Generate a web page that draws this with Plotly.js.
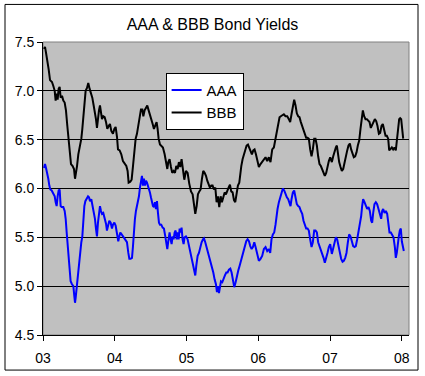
<!DOCTYPE html>
<html>
<head>
<meta charset="utf-8">
<script src="https://cdn.plot.ly/plotly-3.0.1.min.js"></script>
<style>html,body{margin:0;padding:0;background:#fff;}#chart{width:425px;height:376px;}</style>
</head>
<body>
<div id="chart"></div>
<script>
// Decimal-year dates and yields
const aaaX = [2003.014,2003.028,2003.042,2003.060,2003.074,2003.088,2003.102,2003.121,2003.144,2003.163,2003.176,2003.190,2003.204,2003.218,2003.232,2003.246,2003.260,2003.283,2003.302,2003.316,2003.330,2003.344,2003.358,2003.371,2003.385,2003.404,2003.423,2003.436,2003.446,2003.455,2003.464,2003.478,2003.492,2003.506,2003.520,2003.534,2003.548,2003.562,2003.576,2003.590,2003.608,2003.627,2003.641,2003.655,2003.673,2003.692,2003.710,2003.724,2003.738,2003.752,2003.766,2003.780,2003.794,2003.808,2003.822,2003.840,2003.859,2003.878,2003.891,2003.905,2003.924,2003.943,2003.961,
2003.975,2003.994,2004.012,2004.031,2004.049,2004.063,2004.077,2004.096,2004.114,2004.133,2004.151,2004.170,2004.189,2004.203,2004.221,2004.240,2004.254,2004.267,2004.281,2004.295,2004.309,2004.323,2004.337,2004.351,2004.365,2004.379,2004.393,2004.407,2004.421,2004.435,2004.449,2004.463,2004.476,2004.490,2004.504,2004.518,2004.532,2004.546,2004.560,2004.574,2004.588,2004.602,2004.616,2004.630,2004.648,2004.667,2004.685,2004.704,2004.718,2004.732,2004.746,2004.764,2004.778,2004.792,2004.806,2004.820,2004.834,2004.848,2004.862,2004.876,2004.890,2004.904,2004.918,2004.931,2004.945,2004.959,2004.973,
2004.992,2005.015,2005.034,2005.052,2005.071,2005.090,2005.108,2005.122,2005.136,2005.155,2005.173,2005.192,2005.210,2005.229,2005.243,2005.261,2005.280,2005.298,2005.317,2005.336,2005.354,2005.373,2005.391,2005.410,2005.424,2005.438,2005.452,2005.466,2005.480,2005.498,2005.517,2005.535,2005.554,2005.572,2005.591,2005.610,2005.628,2005.647,2005.665,2005.684,2005.702,2005.721,2005.740,2005.758,2005.777,2005.795,2005.814,2005.832,2005.851,2005.870,2005.888,2005.907,2005.925,2005.944,2005.962,2005.981,
2006.008,2006.031,2006.054,2006.078,2006.101,2006.124,2006.147,2006.166,2006.184,2006.203,2006.222,2006.240,2006.254,2006.268,2006.287,2006.305,2006.324,2006.342,2006.361,2006.379,2006.398,2006.417,2006.435,2006.449,2006.463,2006.482,2006.500,2006.519,2006.537,2006.556,2006.574,2006.593,2006.612,2006.630,2006.649,2006.667,2006.686,2006.704,2006.723,2006.742,2006.760,2006.779,2006.797,2006.816,2006.834,2006.853,2006.872,2006.890,2006.909,2006.927,2006.946,2006.964,2006.983,2007.002,
2007.025,2007.044,2007.062,2007.081,2007.099,2007.118,2007.136,2007.155,2007.174,2007.192,2007.211,2007.229,2007.248,2007.266,2007.285,2007.304,2007.322,2007.341,2007.359,2007.378,2007.396,2007.415,2007.434,2007.447,2007.461,2007.480,2007.499,2007.517,2007.536,2007.554,2007.573,2007.587,2007.601,2007.619,2007.638,2007.656,2007.675,2007.694,2007.712,2007.726,2007.740,2007.759,2007.777,2007.796,2007.814,2007.828,2007.847,2007.865,2007.884,2007.903,2007.916,2007.930,2007.944,2007.958,2007.972,2007.986,2008.000,2008.014,2008.028];
const aaaY = [6.21,6.25,6.21,6.16,6.10,6.03,5.99,5.98,5.94,5.92,5.86,5.82,5.92,5.98,5.99,5.82,5.81,5.81,5.77,5.69,5.55,5.41,5.28,5.17,5.05,5.02,5.00,4.90,4.83,4.88,4.95,5.07,5.17,5.28,5.36,5.45,5.51,5.69,5.82,5.87,5.89,5.92,5.91,5.87,5.89,5.82,5.75,5.69,5.59,5.51,5.65,5.74,5.82,5.77,5.74,5.75,5.70,5.64,5.57,5.62,5.67,5.65,5.59,
5.63,5.65,5.62,5.55,5.46,5.51,5.55,5.53,5.51,5.50,5.48,5.45,5.34,5.28,5.28,5.29,5.41,5.57,5.69,5.77,5.81,5.86,5.92,6.01,6.10,6.13,6.03,6.10,6.03,6.08,6.06,6.03,5.98,5.96,5.91,5.86,5.82,5.81,5.86,5.79,5.87,5.75,5.65,5.63,5.63,5.60,5.59,5.51,5.45,5.38,5.46,5.55,5.48,5.43,5.51,5.48,5.55,5.57,5.48,5.55,5.48,5.59,5.55,5.60,5.48,5.43,5.50,
5.51,5.48,5.41,5.38,5.31,5.21,5.14,5.11,5.21,5.31,5.34,5.40,5.45,5.48,5.49,5.45,5.40,5.33,5.28,5.24,5.21,5.14,5.07,5.02,4.94,5.00,4.93,4.99,5.05,5.04,5.09,5.11,5.14,5.14,5.17,5.18,5.14,5.07,4.99,5.04,5.11,5.16,5.21,5.26,5.31,5.38,5.43,5.46,5.48,5.46,5.41,5.38,5.40,5.45,5.40,5.34,
5.26,5.28,5.31,5.38,5.40,5.36,5.38,5.34,5.48,5.53,5.55,5.63,5.72,5.79,5.86,5.91,5.96,6.00,5.98,5.94,5.91,5.89,5.86,5.82,5.89,5.96,5.98,5.91,5.84,5.82,5.81,5.77,5.74,5.67,5.62,5.59,5.59,5.57,5.48,5.40,5.45,5.57,5.57,5.55,5.45,5.41,5.38,5.33,5.29,5.24,5.28,5.34,5.40,5.43,
5.33,5.38,5.45,5.50,5.48,5.40,5.34,5.28,5.25,5.26,5.29,5.34,5.45,5.53,5.51,5.46,5.41,5.40,5.41,5.48,5.55,5.62,5.72,5.82,5.89,5.86,5.81,5.79,5.81,5.77,5.67,5.65,5.75,5.84,5.86,5.84,5.79,5.75,5.69,5.77,5.79,5.75,5.77,5.74,5.63,5.55,5.55,5.53,5.50,5.40,5.29,5.34,5.46,5.51,5.57,5.59,5.46,5.38,5.36];

const bbbX = [2003.014,2003.028,2003.042,2003.060,2003.079,2003.098,2003.125,2003.144,2003.163,2003.176,2003.190,2003.204,2003.218,2003.232,2003.246,2003.265,2003.283,2003.302,2003.320,2003.339,2003.358,2003.376,2003.390,2003.413,2003.432,2003.446,2003.460,2003.474,2003.492,2003.515,2003.534,2003.548,2003.562,2003.576,2003.594,2003.613,2003.631,2003.650,2003.669,2003.687,2003.706,2003.724,2003.738,2003.752,2003.766,2003.780,2003.794,2003.808,2003.822,2003.840,2003.859,2003.878,2003.896,2003.915,2003.933,2003.952,
2003.975,2003.994,2004.012,2004.031,2004.045,2004.068,2004.091,2004.114,2004.138,2004.161,2004.179,2004.193,2004.216,2004.235,2004.254,2004.272,2004.291,2004.309,2004.328,2004.346,2004.365,2004.384,2004.398,2004.416,2004.435,2004.453,2004.472,2004.490,2004.509,2004.528,2004.546,2004.565,2004.583,2004.597,2004.611,2004.630,2004.648,2004.671,2004.695,2004.718,2004.732,2004.746,2004.764,2004.783,2004.801,2004.820,2004.839,2004.857,2004.876,2004.894,2004.913,2004.931,2004.950,2004.969,
2004.992,2005.015,2005.038,2005.062,2005.085,2005.108,2005.122,2005.141,2005.159,2005.178,2005.196,2005.215,2005.233,2005.252,2005.271,2005.289,2005.308,2005.326,2005.345,2005.363,2005.382,2005.401,2005.419,2005.438,2005.456,2005.475,2005.493,2005.512,2005.531,2005.549,2005.568,2005.586,2005.605,2005.623,2005.642,2005.661,2005.679,2005.698,2005.716,2005.735,2005.749,2005.763,2005.781,2005.800,2005.818,2005.837,2005.856,2005.874,2005.893,2005.911,2005.930,2005.948,2005.967,2005.986,
2006.008,2006.031,2006.054,2006.078,2006.101,2006.124,2006.147,2006.170,2006.194,2006.217,2006.240,2006.259,2006.277,2006.296,2006.314,2006.333,2006.356,2006.379,2006.403,2006.426,2006.444,2006.463,2006.482,2006.500,2006.519,2006.537,2006.556,2006.574,2006.593,2006.612,2006.630,2006.649,2006.667,2006.686,2006.704,2006.723,2006.742,2006.760,2006.779,2006.797,2006.816,2006.834,2006.853,2006.872,2006.890,2006.909,2006.927,2006.946,2006.964,2006.983,2007.002,
2007.025,2007.044,2007.062,2007.081,2007.095,2007.109,2007.127,2007.146,2007.164,2007.183,2007.201,2007.220,2007.239,2007.257,2007.276,2007.294,2007.313,2007.331,2007.350,2007.369,2007.387,2007.406,2007.424,2007.443,2007.457,2007.475,2007.494,2007.513,2007.531,2007.550,2007.568,2007.587,2007.605,2007.624,2007.643,2007.661,2007.680,2007.698,2007.717,2007.735,2007.754,2007.773,2007.791,2007.810,2007.824,2007.842,2007.861,2007.879,2007.898,2007.916,2007.935,2007.949,2007.963,2007.977,2007.991,2008.005,2008.019];
const bbbY = [7.43,7.45,7.39,7.32,7.22,7.11,7.09,7.05,7.00,6.90,6.97,6.91,7.02,7.04,6.93,6.95,6.90,6.88,6.80,6.64,6.50,6.37,6.25,6.23,6.20,6.10,6.15,6.23,6.35,6.44,6.51,6.61,6.76,6.91,7.00,7.03,7.08,7.02,6.98,6.93,6.85,6.78,6.71,6.62,6.73,6.80,6.85,6.76,6.71,6.74,6.73,6.68,6.61,6.64,6.66,6.59,
6.56,6.61,6.63,6.53,6.40,6.39,6.35,6.28,6.25,6.23,6.18,6.06,6.07,6.09,6.23,6.37,6.51,6.56,6.64,6.71,6.81,6.81,6.74,6.80,6.83,6.85,6.80,6.76,6.71,6.66,6.61,6.64,6.68,6.61,6.51,6.45,6.44,6.42,6.35,6.25,6.20,6.27,6.30,6.22,6.16,6.18,6.16,6.23,6.20,6.27,6.22,6.30,6.18,6.09,
6.18,6.16,6.05,5.97,5.94,5.82,5.74,5.82,5.94,5.97,5.99,6.10,6.18,6.16,6.13,6.08,6.03,6.01,6.03,6.03,5.99,6.01,5.86,5.92,5.81,5.92,5.86,5.91,5.96,5.94,5.99,6.01,6.04,5.97,5.96,5.88,5.86,5.97,6.03,6.06,6.16,6.23,6.30,6.35,6.40,6.44,6.45,6.42,6.39,6.35,6.39,6.40,6.35,6.27,
6.22,6.25,6.27,6.30,6.32,6.28,6.32,6.27,6.40,6.42,6.51,6.61,6.69,6.73,6.74,6.75,6.76,6.74,6.74,6.71,6.68,6.76,6.86,6.91,6.85,6.77,6.74,6.73,6.68,6.64,6.61,6.56,6.52,6.52,6.51,6.40,6.33,6.40,6.51,6.51,6.44,6.33,6.25,6.23,6.20,6.16,6.13,6.16,6.23,6.28,6.32,
6.27,6.33,6.39,6.42,6.44,6.35,6.27,6.22,6.18,6.20,6.27,6.33,6.39,6.44,6.46,6.40,6.35,6.32,6.33,6.37,6.44,6.49,6.61,6.71,6.80,6.74,6.71,6.71,6.69,6.68,6.62,6.66,6.68,6.71,6.69,6.64,6.56,6.57,6.64,6.66,6.59,6.54,6.54,6.51,6.39,6.40,6.42,6.40,6.42,6.39,6.51,6.64,6.71,6.72,6.71,6.61,6.51];

const yearTicks = [2003, 2004, 2005, 2006, 2007, 2008];
const yearLabels = ['03', '04', '05', '06', '07', '08'];
const seriesNames = ['AAA', 'BBB'];
const chartTitle = 'AAA &amp; BBB Bond Yields';

const FONT = '"Liberation Sans", Arial, sans-serif';

const traces = [
  {x: aaaX, y: aaaY, name: seriesNames[0], type: 'scatter', mode: 'lines',
   line: {color: '#0000ff', width: 2}},
  {x: bbbX, y: bbbY, name: seriesNames[1], type: 'scatter', mode: 'lines',
   line: {color: '#000000', width: 2}}
];

const layout = {
  width: 425, height: 376,
  margin: {l: 43, r: 16, t: 42, b: 41, pad: 0},
  paper_bgcolor: '#ffffff',
  plot_bgcolor: '#c0c0c0',
  font: {family: FONT, color: '#000', size: 13},
  title: {text: chartTitle, x: 0.5, xref: 'container', xanchor: 'center',
          y: 0.934, yref: 'container', yanchor: 'middle',
          font: {family: FONT, size: 16, color: '#000'}},
  showlegend: true,
  legend: {x: 0.335, y: 0.895, xanchor: 'left', yanchor: 'top',
           bgcolor: '#ffffff', bordercolor: '#000', borderwidth: 1,
           font: {family: FONT, size: 15, color: '#000'}, tracegroupgap: 0},
  xaxis: {range: [2003, 2008.1], tickvals: yearTicks, ticktext: yearLabels,
          showgrid: false, zeroline: false, showline: true, linecolor: '#000', linewidth: 1,
          ticks: 'outside', ticklen: 5, tickcolor: '#000', tickwidth: 1, ticklabelstandoff: 5,
          tickfont: {family: FONT, size: 14, color: '#000'}, fixedrange: true},
  yaxis: {range: [4.5, 7.5], dtick: 0.5, tick0: 4.5, tickformat: '.1f',
          showgrid: true, gridcolor: '#000', gridwidth: 1, zeroline: false,
          showline: true, linecolor: '#000', linewidth: 1,
          ticks: 'outside', ticklen: 5, tickcolor: '#000', tickwidth: 1,
          tickfont: {family: FONT, size: 14, color: '#000'}, fixedrange: true},
  shapes: [
    {type: 'rect', xref: 'paper', yref: 'paper', x0: 0, x1: 1, y0: 0, y1: 1,
     line: {color: '#808080', width: 1}, layer: 'below'},
    {type: 'rect', xref: 'paper', yref: 'paper', x0: -0.1038, x1: 1.0246, y0: -0.1197, y1: 1.1282,
     line: {color: '#000', width: 1}, fillcolor: 'rgba(0,0,0,0)'}
  ]
};

Plotly.newPlot('chart', traces, layout, {staticPlot: true, displayModeBar: false});
</script>
</body>
</html>
